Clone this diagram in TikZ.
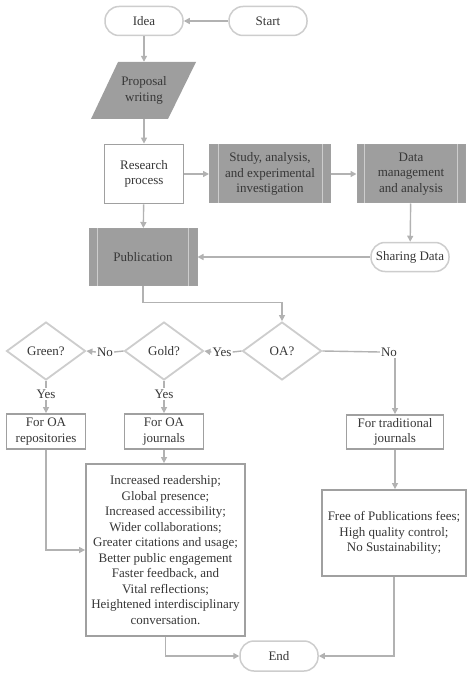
\documentclass[tikz,border=0pt]{standalone}
\usepackage{fontspec}
\setmainfont{Liberation Serif}
\usetikzlibrary{shapes.geometric,arrows.meta}
\definecolor{linegray}{RGB}{178,178,178}
\definecolor{boxgray}{RGB}{160,160,160}
\definecolor{fillgray}{RGB}{158,158,158}
\definecolor{sepgray}{RGB}{205,205,205}
\definecolor{txtgray}{RGB}{55,55,55}
\tikzset{
  every node/.style={font=\fontsize{13}{15.5}\selectfont, text=txtgray, align=center, inner sep=0pt},
  stadium/.style={draw=sepgray, line width=1.5pt, fill=white, rounded corners=14pt, minimum width=78pt, minimum height=29pt},
  plainbox/.style={draw=boxgray, line width=1.8pt, fill=white, minimum width=#1},
  procbox/.style={draw=boxgray, line width=1pt, fill=fillgray},
  decision/.style={diamond, draw=sepgray, line width=1.8pt, fill=white, aspect=1.36, minimum width=79pt, minimum height=58pt},
  conn/.style={draw=linegray, line width=1.4pt},
  arr/.style={conn, -{Triangle[width=6pt,length=6pt]}},
  sep/.style={draw=sepgray, line width=1pt},
  lbl/.style={fill=white, inner sep=1pt}
}
\begin{document}
\begin{tikzpicture}[x=1pt,y=-1pt]
\useasboundingbox (0,0) rectangle (474,676);
% top
\node[stadium] (idea) at (144,21) {Idea};
\node[stadium] (start) at (268,21) {Start};
\fill[fillgray] (118,62) -- (196,62) -- (168,119) -- (91,119) -- cycle;
\node[minimum width=70pt, minimum height=57pt] (prop) at (144,90.5) {Proposal\\writing};
\node[plainbox=79pt, minimum height=59pt] (res) at (144,174) {Research\\process};
\node[procbox, minimum width=121pt, minimum height=58pt] (study) at (270,174) {Study, analysis,\\and experimental\\investigation};
\draw[sep] ([xshift=9pt]study.north west) -- ([xshift=9pt]study.south west);
\draw[sep] ([xshift=-9pt]study.north east) -- ([xshift=-9pt]study.south east);
\node[procbox, minimum width=108pt, minimum height=58pt] (data) at (411,174) {Data\\management\\and analysis};
\draw[sep] ([xshift=8pt]data.north west) -- ([xshift=8pt]data.south west);
\draw[sep] ([xshift=-8pt]data.north east) -- ([xshift=-8pt]data.south east);
\node[procbox, minimum width=108pt, minimum height=57pt] (pub) at (143,257) {Publication};
\draw[sep] ([xshift=9pt]pub.north west) -- ([xshift=9pt]pub.south west);
\draw[sep] ([xshift=-9pt]pub.north east) -- ([xshift=-9pt]pub.south east);
\node[stadium] (share) at (410,257) {Sharing Data};
% decisions
\node[decision] (oa) at (282,351) {OA?};
\node[decision] (gold) at (164,351) {Gold?};
\node[decision] (green) at (46,351) {Green?};
\node[lbl] (yes1) at (222,352) {Yes};
\node[lbl] (no1) at (105,352) {No};
\node[lbl] (no2) at (389,352) {No};
\node[lbl] (yes2) at (46,394) {Yes};
\node[lbl] (yes3) at (164,394) {Yes};
% lower boxes
\node[plainbox=79pt, minimum height=35pt] (rep) at (46,431.5) {For OA\\repositories};
\node[plainbox=79pt, minimum height=35pt] (oaj) at (164,431.5) {For OA\\journals};
\node[plainbox=97pt, minimum height=34pt] (trad) at (395,432) {For traditional\\journals};
\node[plainbox=159pt, minimum height=172pt] (big) at (165.5,550) {Increased readership;\\Global presence;\\Increased accessibility;\\Wider collaborations;\\Greater citations and usage;\\Better public engagement\\Faster feedback, and\\Vital reflections;\\Heightened interdisciplinary\\conversation.};
\node[plainbox=144pt, minimum height=86pt] (free) at (394,533) {Free of Publications fees;\\High quality control;\\No Sustainability;};
\node[stadium, minimum height=30pt] (end) at (279,656) {End};
% connectors
\draw[arr] (start) -- (idea);
\draw[arr] (idea) -- (prop);
\draw[arr] (prop) -- (res);
\draw[arr] (res) -- (study);
\draw[arr] (study) -- (data);
\draw[arr] (data) -- (share);
\draw[arr] (share) -- (pub);
\draw[arr] (res) -- (pub);
\draw[arr] (pub.south) -- ++(0,16.5) -| (oa.north);
\draw[conn] (oa.west) -- (yes1.east);
\draw[arr] (yes1.west) -- (gold.east);
\draw[conn] (gold.west) -- (no1.east);
\draw[arr] (no1.west) -- (green.east);
\draw[conn] (oa.east) -- (no2.west);
\draw[arr] (no2.south -| trad.north) -- (trad.north);
\draw[conn] (green.south) -- (yes2.north);
\draw[arr] (yes2.south) -- (rep.north);
\draw[conn] (gold.south) -- (yes3.north);
\draw[arr] (yes3.south) -- (oaj.north);
\draw[arr] (oaj.south) -- (oaj.south |- big.north);
\draw[arr] (rep.south) |- (big.west);
\draw[arr] (trad.south) -- (trad.south |- free.north);
\draw[arr] (big.south) |- (end.west);
\draw[arr] (free.south) |- (end.east);
\end{tikzpicture}
\end{document}
